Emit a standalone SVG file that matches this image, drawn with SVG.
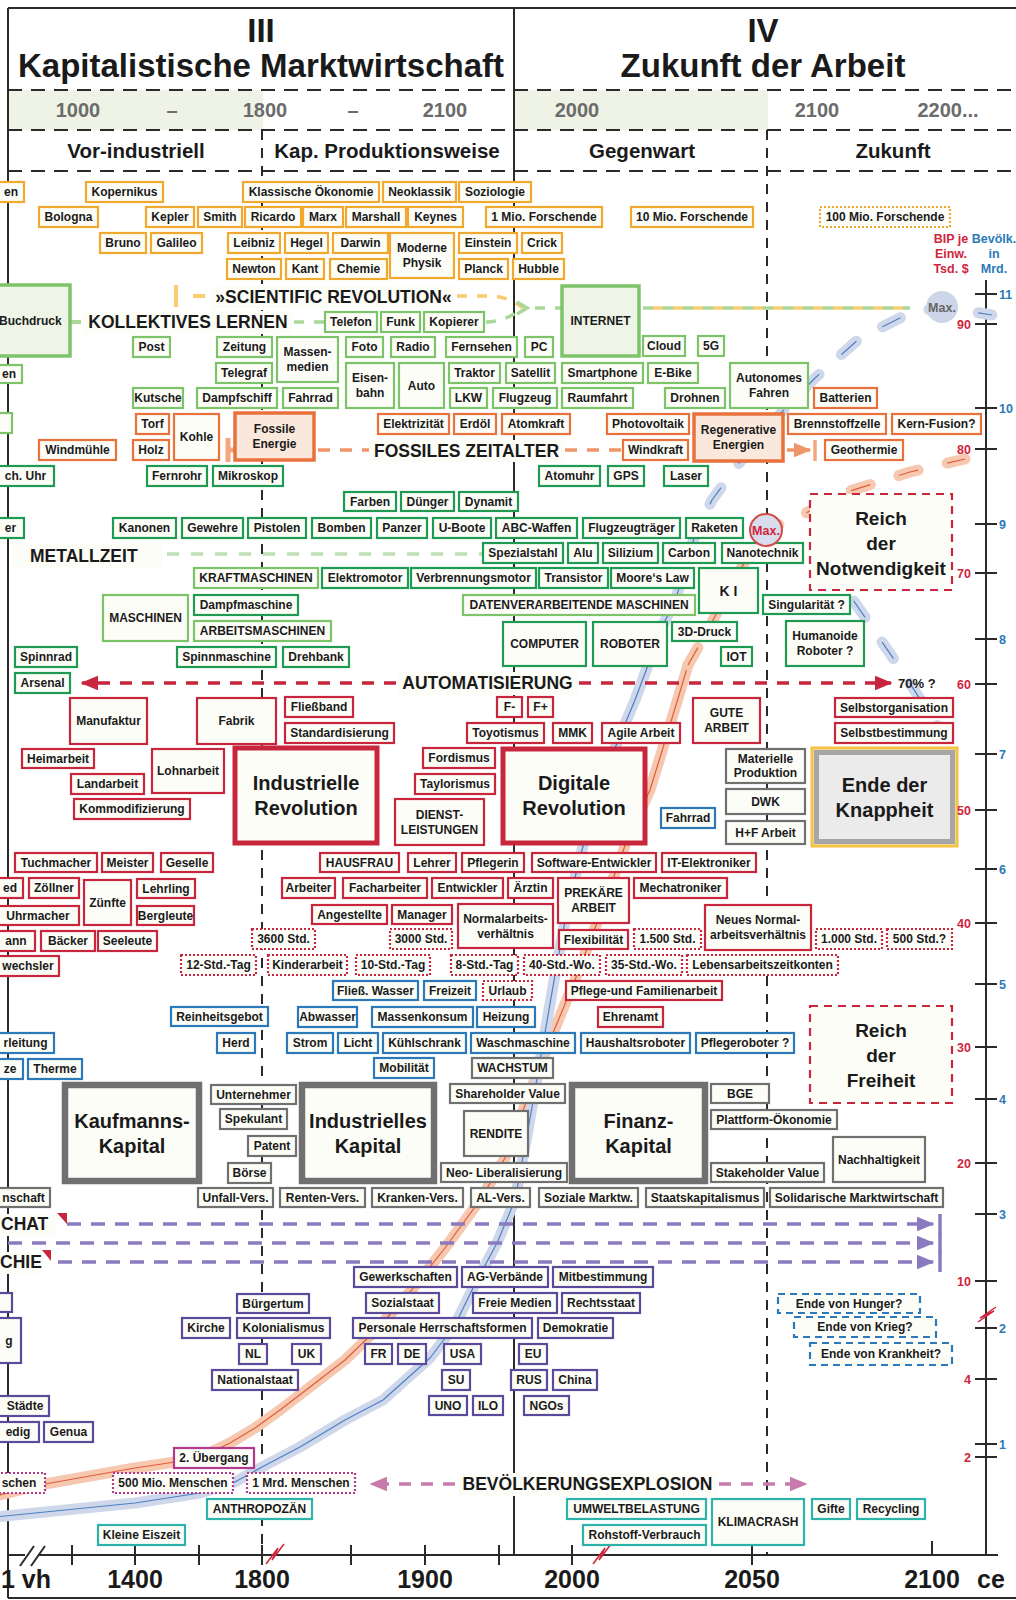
<svg xmlns="http://www.w3.org/2000/svg" width="1016" height="1600" viewBox="0 0 1016 1600">
<style>
text{font-family:"Liberation Sans",Arial,Helvetica,sans-serif;font-weight:bold;fill:#1a1a1a}
.n rect{fill:#fdfdf8;stroke-width:2.2}
.n text{font-size:12px;text-anchor:middle}
.o rect{stroke:#f0a92e}
.od rect{stroke:#f0a92e;stroke-dasharray:2 2}
.g rect{stroke:#7cc36a}
.gd rect{stroke:#1f9a52}
.e rect{stroke:#e8713c}
.r rect{stroke:#c8263d}
.rd rect{stroke:#c8263d;stroke-dasharray:2 2}
.b rect{stroke:#2b79b9}
.bd rect{stroke:#2b79b9;stroke-dasharray:7 5}
.k rect{stroke:#707070}
.p rect{stroke:#5b4a9c}
.m rect{stroke:#b13a8c}
.md rect{stroke:#b13a8c;stroke-dasharray:2 2}
.t rect{stroke:#2db3a9}
.big text{font-size:20px}
.reich text{font-size:19px}
.tg rect{stroke-width:3.5;fill:#eef5e7}
.te rect{stroke-width:3.5;fill:#fbe8dc}
.tr rect{stroke-width:5}
.tk rect{stroke-width:6.5}
.reich rect{stroke:#c8263d;stroke-dasharray:8 6}
.hdr{font-size:33px;text-anchor:middle}
.yr{font-size:20px;fill:#6b6b6b;text-anchor:middle}
.per{font-size:20.5px;text-anchor:middle}
.ax{font-size:25px;text-anchor:middle}
.lbl{font-size:17.5px}
.lbg{fill:#fdfdf8}
.rn{font-size:12.5px;fill:#d0253c;text-anchor:end}
.bn{font-size:12.5px;fill:#2b79b9}
.rh{font-size:12.5px;fill:#d0253c;text-anchor:middle}
.bh{font-size:12.5px;fill:#2b79b9;text-anchor:middle}
.grid{stroke:#2a2a2a;stroke-width:2;fill:none}
.dh{stroke-dasharray:14 9}
.dv{stroke-dasharray:10 8}
.band{fill:none;stroke-width:11;stroke-linecap:round;stroke-linejoin:round}
.thin{fill:none;stroke-width:1.2;stroke-linejoin:round}
.dsh{stroke-dasharray:20 30}
.cn{fill:none;stroke-width:3.5}
</style>
<defs>
<marker id="ah-red" viewBox="0 0 12 10" refX="11" refY="5" markerWidth="5" markerHeight="4.2" orient="auto" markerUnits="strokeWidth"><path d="M0,0 L12,5 L0,10 z" fill="#c8263d"/></marker>
<marker id="ah-pur" viewBox="0 0 12 10" refX="11" refY="5" markerWidth="5" markerHeight="4.2" orient="auto" markerUnits="strokeWidth"><path d="M0,0 L12,5 L0,10 z" fill="#8a7abf"/></marker>
<marker id="ah-mag" viewBox="0 0 12 10" refX="11" refY="5" markerWidth="5" markerHeight="4.2" orient="auto" markerUnits="strokeWidth"><path d="M0,0 L12,5 L0,10 z" fill="#c67bab"/></marker>
<marker id="ah-ora" viewBox="0 0 12 10" refX="11" refY="5" markerWidth="5" markerHeight="4.2" orient="auto" markerUnits="strokeWidth"><path d="M0,0 L12,5 L0,10 z" fill="#f0956a"/></marker>
</defs>
<rect width="1016" height="1600" fill="#ffffff"/>

<!-- header backgrounds -->
<rect x="8" y="90" width="255" height="40" fill="#eef3e5"/>
<rect x="514" y="90" width="254" height="40" fill="#eef3e5"/>

<!-- frame and grid -->
<g id="frame">
<line class="grid" x1="8" y1="8" x2="1016" y2="8" stroke-width="3"/>
<line class="grid" x1="8" y1="8" x2="8" y2="1598" stroke-width="2.5"/>
<line class="grid" x1="8" y1="1598" x2="1016" y2="1598" stroke-width="3"/>
<line class="grid dh" x1="8" y1="90" x2="1016" y2="90"/>
<line class="grid dh" x1="8" y1="130" x2="1016" y2="130"/>
<line class="grid dh" x1="8" y1="171" x2="1016" y2="171"/>
<line class="grid" x1="514" y1="8" x2="514" y2="1555"/>
<line class="grid dv" x1="262" y1="130" x2="262" y2="1555"/>
<line class="grid dv" x1="767" y1="130" x2="767" y2="1555"/>
<line class="grid" x1="8" y1="1555" x2="998" y2="1555" stroke-width="2.5"/>
<line class="grid" x1="986" y1="280" x2="986" y2="1555" stroke-width="2.5"/>
<g stroke="#2a2a2a" stroke-width="2">
<line x1="72" y1="1545" x2="72" y2="1565"/><line x1="135" y1="1545" x2="135" y2="1565"/><line x1="199" y1="1545" x2="199" y2="1565"/><line x1="262" y1="1545" x2="262" y2="1565"/><line x1="351" y1="1545" x2="351" y2="1565"/><line x1="425" y1="1545" x2="425" y2="1565"/><line x1="499" y1="1545" x2="499" y2="1565"/><line x1="572" y1="1545" x2="572" y2="1565"/><line x1="752" y1="1545" x2="752" y2="1565"/><line x1="932" y1="1541" x2="932" y2="1556"/>
<line x1="975" y1="294" x2="997" y2="294"/><line x1="975" y1="324" x2="997" y2="324"/><line x1="975" y1="408" x2="997" y2="408"/><line x1="975" y1="449" x2="997" y2="449"/><line x1="975" y1="524" x2="997" y2="524"/><line x1="975" y1="573" x2="997" y2="573"/><line x1="975" y1="639" x2="997" y2="639"/><line x1="975" y1="684" x2="997" y2="684"/><line x1="975" y1="754" x2="997" y2="754"/><line x1="975" y1="810" x2="997" y2="810"/><line x1="975" y1="869" x2="997" y2="869"/><line x1="975" y1="923" x2="997" y2="923"/><line x1="975" y1="984" x2="997" y2="984"/><line x1="975" y1="1047" x2="997" y2="1047"/><line x1="975" y1="1099" x2="997" y2="1099"/><line x1="975" y1="1163" x2="997" y2="1163"/><line x1="975" y1="1214" x2="997" y2="1214"/><line x1="975" y1="1281" x2="997" y2="1281"/><line x1="975" y1="1328" x2="997" y2="1328"/><line x1="975" y1="1379" x2="997" y2="1379"/><line x1="975" y1="1444" x2="997" y2="1444"/><line x1="975" y1="1457" x2="997" y2="1457"/>
</g>
<rect x="25" y="1551" width="14" height="8" fill="#ffffff"/>
<line x1="20" y1="1566" x2="34" y2="1546" stroke="#2a2a2a" stroke-width="2"/>
<line x1="31" y1="1566" x2="45" y2="1546" stroke="#2a2a2a" stroke-width="2"/>
<polyline points="266,1564 278,1548 272,1560 284,1544" fill="none" stroke="#d0253c" stroke-width="1.5"/>
<polyline points="593,1564 605,1548 599,1560 611,1544" fill="none" stroke="#d0253c" stroke-width="1.5"/>
<polyline points="978,1322 994,1311 980,1318 996,1307" fill="none" stroke="#d0253c" stroke-width="1.5"/>
</g>

<!-- growth curves -->
<g id="curves">
<path class="band" stroke="#f6c8b0" d="M-5 1496 L45 1484 L135 1468 L175 1462 L205 1455 L230 1443 L255 1428 L280 1410 L310 1387 L345 1360 L378 1328 L410 1292 L445 1248 L480 1200 L505 1158 L530 1092 L553 1033 L575 980 L600 915 L627 840 L650 790 L670 725 L688 665"/>
<path class="thin" stroke="#e25c38" d="M-5 1496 L45 1484 L135 1468 L175 1462 L205 1455 L230 1443 L255 1428 L280 1410 L310 1387 L345 1360 L378 1328 L410 1292 L445 1248 L480 1200 L505 1158 L530 1092 L553 1033 L575 980 L600 915 L627 840 L650 790 L670 725 L688 665"/>
<path class="band dsh" stroke="#f6c8b0" d="M688 665 L705 635 L728 592 L748 556 L766 530 L800 516 L850 491 L910 472 L965 459"/>
<path class="thin dsh" stroke="#e25c38" d="M688 665 L705 635 L728 592 L748 556 L766 530 L800 516 L850 491 L910 472 L965 459"/>
<path class="band" stroke="#cfd8ea" d="M-5 1517 L135 1503 L200 1493 L235 1482 L262 1467 L300 1447 L345 1420 L383 1400 L430 1358 L455 1325 L473 1288 L497 1243 L515 1200 L528 1130 L542 1050 L555 975 L568 905 L582 850 L595 805 L615 748 L635 700 L650 660 L663 625 L676 598"/>
<path class="thin" stroke="#4c7fc4" d="M-5 1517 L135 1503 L200 1493 L235 1482 L262 1467 L300 1447 L345 1420 L383 1400 L430 1358 L455 1325 L473 1288 L497 1243 L515 1200 L528 1130 L542 1050 L555 975 L568 905 L582 850 L595 805 L615 748 L635 700 L650 660 L663 625 L676 598"/>
<path class="band dsh" stroke="#cfd8ea" d="M676 598 L695 535 L712 500 L740 462 L780 414 L815 378 L860 338 L910 313 L942 307 L992 315"/>
<path class="thin dsh" stroke="#4c7fc4" d="M676 598 L695 535 L712 500 L740 462 L780 414 L815 378 L860 338 L910 313 L942 307 L992 315"/>
<path class="band dsh" stroke="#cfd8ea" d="M825 560 L860 610 L900 668 L940 730"/>
<path class="thin dsh" stroke="#4c7fc4" d="M825 560 L860 610 L900 668 L940 730"/>
</g>

<!-- connectors -->
<g id="connectors">
<line x1="176" y1="285" x2="176" y2="307" stroke="#f7cd72" stroke-width="4"/>
<line x1="193" y1="296" x2="205" y2="296" stroke="#f7cd72" stroke-width="4"/>
<path class="cn" stroke="#f7cd72" stroke-dasharray="10 10" d="M457 296 L490 296 Q508 296 523 308"/>
<line x1="71" y1="322" x2="81" y2="322" stroke="#a9d898" stroke-width="4"/>
<path class="cn" stroke="#a9d898" stroke-dasharray="10 10" d="M294 322 H325"/>
<path class="cn" stroke="#a9d898" stroke-dasharray="10 10" d="M486 322 Q505 322 523 308"/>
<polyline points="517,302 527,308 517,314" fill="none" stroke="#a9d898" stroke-width="3.5"/>
<path class="cn" stroke="#a9d898" stroke-dasharray="10 10" d="M535 308 H562"/>
<path class="cn" stroke="#a9d898" stroke-dasharray="10 10" d="M643 308 H910"/>
<path class="cn" stroke="#f7cd72" stroke-dasharray="10 10" stroke-dashoffset="10" d="M643 308 H910"/>
<line x1="228" y1="438" x2="228" y2="462" stroke="#f4a77c" stroke-width="5"/>
<line x1="228" y1="450" x2="236" y2="450" stroke="#f4a77c" stroke-width="5"/>
<path class="cn" stroke="#f0956a" stroke-dasharray="12 10" d="M318 450 H370"/>
<path class="cn" stroke="#f0956a" stroke-dasharray="12 10" d="M565 450 H623"/>
<path class="cn" stroke="#f0956a" d="M787 450 H810" marker-end="url(#ah-ora)"/>
<line x1="815" y1="440" x2="815" y2="461" stroke="#f4a77c" stroke-width="3.5"/>
<path class="cn" stroke="#bde0b4" stroke-dasharray="12 12" d="M167 554 H483"/>
<path class="cn" stroke="#c8263d" stroke-width="3" stroke-dasharray="12 10" d="M396 683 H82" marker-end="url(#ah-red)"/>
<path class="cn" stroke="#c8263d" stroke-width="3" stroke-dasharray="12 10" d="M579 683 H891" marker-end="url(#ah-red)"/>
<path class="cn" stroke="#8a7abf" stroke-dasharray="14 10" d="M67 1224 H933" marker-end="url(#ah-pur)"/>
<path class="cn" stroke="#8a7abf" stroke-dasharray="14 10" d="M8 1243 H933" marker-end="url(#ah-pur)"/>
<path class="cn" stroke="#8a7abf" stroke-dasharray="14 10" d="M58 1262 H933" marker-end="url(#ah-pur)"/>
<g stroke="#8a7abf" stroke-width="3.5"><line x1="940" y1="1214" x2="940" y2="1234"/><line x1="940" y1="1233" x2="940" y2="1253"/><line x1="940" y1="1252" x2="940" y2="1272"/></g>
<polygon points="57,1213 67,1213 67,1224" fill="#c8263d"/>
<polygon points="42,1250 51,1250 51,1261" fill="#c8263d"/>
<path class="cn" stroke="#c67bab" stroke-width="3" stroke-dasharray="12 10" d="M455 1484 H371" marker-end="url(#ah-mag)"/>
<path class="cn" stroke="#c67bab" stroke-width="3" stroke-dasharray="12 10" d="M719 1484 H806" marker-end="url(#ah-mag)"/>
</g>

<!-- headers -->
<g id="headers">
<text class="hdr" x="261" y="42">III</text>
<text class="hdr" x="261" y="77">Kapitalistische Marktwirtschaft</text>
<text class="hdr" x="763" y="42">IV</text>
<text class="hdr" x="763" y="77">Zukunft der Arbeit</text>
<text class="yr" x="78" y="117">1000</text>
<text class="yr" x="172" y="117">–</text>
<text class="yr" x="265" y="117">1800</text>
<text class="yr" x="353" y="117">–</text>
<text class="yr" x="445" y="117">2100</text>
<text class="yr" x="577" y="117">2000</text>
<text class="yr" x="817" y="117">2100</text>
<text class="yr" x="948" y="117">2200...</text>
<text class="per" x="136" y="158">Vor-industriell</text>
<text class="per" x="387" y="158">Kap. Produktionsweise</text>
<text class="per" x="642" y="158">Gegenwart</text>
<text class="per" x="893" y="158">Zukunft</text>
</g>

<!-- labels -->
<g id="labels">
<rect class="lbg" x="212" y="286" width="243" height="22"/>
<text class="lbl" x="333.5" y="303" font-size="17" text-anchor="middle">»SCIENTIFIC REVOLUTION«</text>
<rect class="lbg" x="84" y="311" width="208" height="23"/>
<text class="lbl" x="188" y="328" text-anchor="middle">KOLLEKTIVES LERNEN</text>
<rect class="lbg" x="369" y="440" width="195" height="22"/>
<text class="lbl" x="466.5" y="457" text-anchor="middle">FOSSILES ZEITALTER</text>
<rect class="lbg" x="12" y="544" width="150" height="24"/>
<text class="lbl" x="30" y="562">METALLZEIT</text>
<rect class="lbg" x="398" y="672" width="180" height="23"/>
<text class="lbl" x="487.5" y="689" text-anchor="middle">AUTOMATISIERUNG</text>
<text x="898" y="688" font-size="13">70% ?</text>
<rect class="lbg" x="0" y="1214" width="56" height="22"/>
<text class="lbl" x="1" y="1230">CHAT</text>
<rect class="lbg" x="0" y="1252" width="42" height="22"/>
<text class="lbl" x="0" y="1268">CHIE</text>
<rect class="lbg" x="458" y="1473" width="259" height="23"/>
<text class="lbl" x="587.5" y="1490" text-anchor="middle">BEVÖLKERUNGSEXPLOSION</text>
</g>

<!-- nodes: science -->
<g id="n-en1" class="n o"><rect x="-3" y="182" width="27" height="20"/><text x="11" y="196.3">en</text></g>
<g id="n-kopernikus" class="n o"><rect x="86" y="182" width="77" height="20"/><text x="124.5" y="196.3">Kopernikus</text></g>
<g id="n-klassische" class="n o"><rect x="243" y="182" width="136" height="20"/><text x="311" y="196.3">Klassische Ökonomie</text></g>
<g id="n-neoklassik" class="n o"><rect x="383" y="182" width="73" height="20"/><text x="419.5" y="196.3">Neoklassik</text></g>
<g id="n-soziologie" class="n o"><rect x="459" y="182" width="72" height="20"/><text x="495" y="196.3">Soziologie</text></g>
<g id="n-bologna" class="n o"><rect x="39" y="207" width="59" height="20"/><text x="68.5" y="221.3">Bologna</text></g>
<g id="n-kepler" class="n o"><rect x="146" y="207" width="48" height="20"/><text x="170" y="221.3">Kepler</text></g>
<g id="n-smith" class="n o"><rect x="198" y="207" width="44" height="20"/><text x="220" y="221.3">Smith</text></g>
<g id="n-ricardo" class="n o"><rect x="245" y="207" width="56" height="20"/><text x="273" y="221.3">Ricardo</text></g>
<g id="n-marx" class="n o"><rect x="303" y="207" width="40" height="20"/><text x="323" y="221.3">Marx</text></g>
<g id="n-marshall" class="n o"><rect x="346" y="207" width="60" height="20"/><text x="376" y="221.3">Marshall</text></g>
<g id="n-keynes" class="n o"><rect x="408" y="207" width="55" height="20"/><text x="435.5" y="221.3">Keynes</text></g>
<g id="n-mio1" class="n o"><rect x="486" y="207" width="116" height="20"/><text x="544" y="221.3">1 Mio. Forschende</text></g>
<g id="n-mio10" class="n o"><rect x="631" y="207" width="122" height="20"/><text x="692" y="221.3">10 Mio. Forschende</text></g>
<g id="n-mio100" class="n od"><rect x="820" y="207" width="130" height="20"/><text x="885" y="221.3">100 Mio. Forschende</text></g>
<g id="n-bruno" class="n o"><rect x="100" y="233" width="46" height="20"/><text x="123" y="247.3">Bruno</text></g>
<g id="n-galileo" class="n o"><rect x="151" y="233" width="51" height="20"/><text x="176.5" y="247.3">Galileo</text></g>
<g id="n-leibniz" class="n o"><rect x="228" y="233" width="52" height="20"/><text x="254" y="247.3">Leibniz</text></g>
<g id="n-hegel" class="n o"><rect x="285" y="233" width="43" height="20"/><text x="306.5" y="247.3">Hegel</text></g>
<g id="n-darwin" class="n o"><rect x="333" y="233" width="55" height="20"/><text x="360.5" y="247.3">Darwin</text></g>
<g id="n-physik" class="n o"><rect x="390" y="233" width="64" height="45"/><text x="422" y="252.3">Moderne<tspan x="422" dy="15">Physik</tspan></text></g>
<g id="n-einstein" class="n o"><rect x="459" y="233" width="58" height="20"/><text x="488" y="247.3">Einstein</text></g>
<g id="n-crick" class="n o"><rect x="522" y="233" width="40" height="20"/><text x="542" y="247.3">Crick</text></g>
<g id="n-newton" class="n o"><rect x="227" y="259" width="54" height="20"/><text x="254" y="273.3">Newton</text></g>
<g id="n-kant" class="n o"><rect x="286" y="259" width="38" height="20"/><text x="305" y="273.3">Kant</text></g>
<g id="n-chemie" class="n o"><rect x="330" y="259" width="57" height="20"/><text x="358.5" y="273.3">Chemie</text></g>
<g id="n-planck" class="n o"><rect x="459" y="259" width="49" height="20"/><text x="483.5" y="273.3">Planck</text></g>
<g id="n-hubble" class="n o"><rect x="513" y="259" width="51" height="20"/><text x="538.5" y="273.3">Hubble</text></g>

<!-- nodes: media / transport -->
<g id="n-buchdruck" class="n g tg"><rect x="-3" y="285" width="73" height="71"/><text x="-1" y="324.8" style="text-anchor:start">Buchdruck</text></g>
<g id="n-telefon" class="n g"><rect x="325" y="312" width="52" height="20"/><text x="351" y="326.3">Telefon</text></g>
<g id="n-funk" class="n g"><rect x="381" y="312" width="39" height="20"/><text x="400.5" y="326.3">Funk</text></g>
<g id="n-kopierer" class="n g"><rect x="424" y="312" width="60" height="20"/><text x="454" y="326.3">Kopierer</text></g>
<g id="n-internet" class="n g tg"><rect x="562" y="286" width="77" height="70"/><text x="600.5" y="325.3">INTERNET</text></g>
<g id="n-post" class="n g"><rect x="133" y="337" width="37" height="20"/><text x="151.5" y="351.3">Post</text></g>
<g id="n-zeitung" class="n g"><rect x="217" y="337" width="55" height="20"/><text x="244.5" y="351.3">Zeitung</text></g>
<g id="n-massenmedien" class="n g"><rect x="277" y="337" width="61" height="45"/><text x="307.5" y="356.3">Massen-<tspan x="307.5" dy="15">medien</tspan></text></g>
<g id="n-foto" class="n g"><rect x="346" y="337" width="37" height="20"/><text x="364.5" y="351.3">Foto</text></g>
<g id="n-radio" class="n g"><rect x="391" y="337" width="44" height="20"/><text x="413" y="351.3">Radio</text></g>
<g id="n-fernsehen" class="n g"><rect x="446" y="337" width="71" height="20"/><text x="481.5" y="351.3">Fernsehen</text></g>
<g id="n-pc" class="n g"><rect x="525" y="337" width="28" height="20"/><text x="539" y="351.3">PC</text></g>
<g id="n-cloud" class="n g"><rect x="643" y="336" width="42" height="20"/><text x="664" y="350.3">Cloud</text></g>
<g id="n-5g" class="n g"><rect x="698" y="336" width="26" height="20"/><text x="711" y="350.3">5G</text></g>
<g id="n-en2" class="n g"><rect x="-3" y="365" width="25" height="18"/><text x="9" y="378.3">en</text></g>
<g id="n-telegraf" class="n g"><rect x="216" y="363" width="56" height="20"/><text x="244" y="377.3">Telegraf</text></g>
<g id="n-eisenbahn" class="n g"><rect x="346" y="363" width="48" height="45"/><text x="370" y="382.3">Eisen-<tspan x="370" dy="15">bahn</tspan></text></g>
<g id="n-auto" class="n g"><rect x="399" y="363" width="45" height="45"/><text x="421.5" y="389.8">Auto</text></g>
<g id="n-traktor" class="n g"><rect x="449" y="363" width="51" height="20"/><text x="474.5" y="377.3">Traktor</text></g>
<g id="n-satellit" class="n g"><rect x="506" y="363" width="49" height="20"/><text x="530.5" y="377.3">Satellit</text></g>
<g id="n-smartphone" class="n g"><rect x="562" y="363" width="81" height="20"/><text x="602.5" y="377.3">Smartphone</text></g>
<g id="n-ebike" class="n g"><rect x="648" y="363" width="50" height="20"/><text x="673" y="377.3">E-Bike</text></g>
<g id="n-autonomes" class="n g"><rect x="730" y="363" width="78" height="45"/><text x="769" y="382.3">Autonomes<tspan x="769" dy="15">Fahren</tspan></text></g>
<g id="n-kutsche" class="n g"><rect x="133" y="388" width="50" height="20"/><text x="158" y="402.3">Kutsche</text></g>
<g id="n-dampfschiff" class="n g"><rect x="197" y="388" width="80" height="20"/><text x="237" y="402.3">Dampfschiff</text></g>
<g id="n-fahrrad1" class="n g"><rect x="283" y="388" width="55" height="20"/><text x="310.5" y="402.3">Fahrrad</text></g>
<g id="n-lkw" class="n g"><rect x="450" y="388" width="37" height="20"/><text x="468.5" y="402.3">LKW</text></g>
<g id="n-flugzeug" class="n g"><rect x="493" y="388" width="64" height="20"/><text x="525" y="402.3">Flugzeug</text></g>
<g id="n-raumfahrt" class="n g"><rect x="562" y="388" width="71" height="20"/><text x="597.5" y="402.3">Raumfahrt</text></g>
<g id="n-drohnen" class="n g"><rect x="665" y="388" width="60" height="20"/><text x="695" y="402.3">Drohnen</text></g>
<g id="n-gfrag" class="n g"><rect x="-3" y="413" width="15" height="20"/></g>

<!-- nodes: energy -->
<g id="n-batterien" class="n e"><rect x="814" y="388" width="63" height="20"/><text x="845.5" y="402.3">Batterien</text></g>
<g id="n-torf" class="n e"><rect x="136" y="414" width="33" height="20"/><text x="152.5" y="428.3">Torf</text></g>
<g id="n-kohle" class="n e"><rect x="174" y="414" width="45" height="46"/><text x="196.5" y="441.3">Kohle</text></g>
<g id="n-fossile" class="n e te"><rect x="235" y="413" width="79" height="47"/><text x="274.5" y="433.3">Fossile<tspan x="274.5" dy="15">Energie</tspan></text></g>
<g id="n-windmuehle" class="n e"><rect x="39" y="440" width="77" height="20"/><text x="77.5" y="454.3">Windmühle</text></g>
<g id="n-holz" class="n e"><rect x="133" y="440" width="36" height="20"/><text x="151" y="454.3">Holz</text></g>
<g id="n-elektrizitaet" class="n e"><rect x="378" y="414" width="71" height="20"/><text x="413.5" y="428.3">Elektrizität</text></g>
<g id="n-erdoel" class="n e"><rect x="454" y="414" width="42" height="20"/><text x="475" y="428.3">Erdöl</text></g>
<g id="n-atomkraft" class="n e"><rect x="502" y="414" width="68" height="20"/><text x="536" y="428.3">Atomkraft</text></g>
<g id="n-photovoltaik" class="n e"><rect x="607" y="414" width="82" height="20"/><text x="648" y="428.3">Photovoltaik</text></g>
<g id="n-windkraft" class="n e"><rect x="623" y="440" width="65" height="20"/><text x="655.5" y="454.3">Windkraft</text></g>
<g id="n-regenerative" class="n e te"><rect x="694" y="414" width="89" height="47"/><text x="738.5" y="434.3">Regenerative<tspan x="738.5" dy="15">Energien</tspan></text></g>
<g id="n-brennstoffzelle" class="n e"><rect x="788" y="414" width="98" height="20"/><text x="837" y="428.3">Brennstoffzelle</text></g>
<g id="n-kernfusion" class="n e"><rect x="892" y="414" width="89" height="20"/><text x="936.5" y="428.3">Kern-Fusion?</text></g>
<g id="n-geothermie" class="n e"><rect x="825" y="440" width="78" height="20"/><text x="864" y="454.3">Geothermie</text></g>

<!-- nodes: technology -->
<g id="n-uhr" class="n gd"><rect x="-3" y="466" width="57" height="20"/><text x="25.5" y="480.3">ch. Uhr</text></g>
<g id="n-fernrohr" class="n gd"><rect x="147" y="466" width="60" height="20"/><text x="177" y="480.3">Fernrohr</text></g>
<g id="n-mikroskop" class="n gd"><rect x="213" y="466" width="70" height="20"/><text x="248" y="480.3">Mikroskop</text></g>
<g id="n-atomuhr" class="n gd"><rect x="539" y="466" width="61" height="20"/><text x="569.5" y="480.3">Atomuhr</text></g>
<g id="n-gps" class="n gd"><rect x="608" y="466" width="36" height="20"/><text x="626" y="480.3">GPS</text></g>
<g id="n-laser" class="n gd"><rect x="664" y="466" width="44" height="20"/><text x="686" y="480.3">Laser</text></g>
<g id="n-farben" class="n gd"><rect x="344" y="492" width="52" height="19"/><text x="370" y="505.8">Farben</text></g>
<g id="n-duenger" class="n gd"><rect x="401" y="492" width="53" height="19"/><text x="427.5" y="505.8">Dünger</text></g>
<g id="n-dynamit" class="n gd"><rect x="459" y="492" width="59" height="19"/><text x="488.5" y="505.8">Dynamit</text></g>
<g id="n-er" class="n gd"><rect x="-3" y="518" width="27" height="20"/><text x="10.5" y="532.3">er</text></g>
<g id="n-kanonen" class="n gd"><rect x="113" y="518" width="63" height="20"/><text x="144.5" y="532.3">Kanonen</text></g>
<g id="n-gewehre" class="n gd"><rect x="182" y="518" width="61" height="20"/><text x="212.5" y="532.3">Gewehre</text></g>
<g id="n-pistolen" class="n gd"><rect x="248" y="518" width="58" height="20"/><text x="277" y="532.3">Pistolen</text></g>
<g id="n-bomben" class="n gd"><rect x="312" y="518" width="59" height="20"/><text x="341.5" y="532.3">Bomben</text></g>
<g id="n-panzer" class="n gd"><rect x="377" y="518" width="50" height="20"/><text x="402" y="532.3">Panzer</text></g>
<g id="n-uboote" class="n gd"><rect x="433" y="518" width="58" height="20"/><text x="462" y="532.3">U-Boote</text></g>
<g id="n-abc" class="n gd"><rect x="496" y="518" width="81" height="20"/><text x="536.5" y="532.3">ABC-Waffen</text></g>
<g id="n-flugzeugtraeger" class="n gd"><rect x="583" y="518" width="97" height="20"/><text x="631.5" y="532.3">Flugzeugträger</text></g>
<g id="n-raketen" class="n gd"><rect x="686" y="518" width="57" height="20"/><text x="714.5" y="532.3">Raketen</text></g>
<g id="n-spezialstahl" class="n gd"><rect x="483" y="543" width="80" height="20"/><text x="523" y="557.3">Spezialstahl</text></g>
<g id="n-alu" class="n gd"><rect x="568" y="543" width="30" height="20"/><text x="583" y="557.3">Alu</text></g>
<g id="n-silizium" class="n gd"><rect x="603" y="543" width="55" height="20"/><text x="630.5" y="557.3">Silizium</text></g>
<g id="n-carbon" class="n gd"><rect x="663" y="543" width="52" height="20"/><text x="689" y="557.3">Carbon</text></g>
<g id="n-nanotechnik" class="n gd"><rect x="722" y="543" width="81" height="20"/><text x="762.5" y="557.3">Nanotechnik</text></g>
<g id="n-kraftmaschinen" class="n g"><rect x="194" y="568" width="124" height="20"/><text x="256" y="582.3">KRAFTMASCHINEN</text></g>
<g id="n-elektromotor" class="n gd"><rect x="322" y="568" width="86" height="20"/><text x="365" y="582.3">Elektromotor</text></g>
<g id="n-verbrennungsmotor" class="n gd"><rect x="411" y="568" width="125" height="20"/><text x="473.5" y="582.3">Verbrennungsmotor</text></g>
<g id="n-transistor" class="n gd"><rect x="539" y="568" width="69" height="20"/><text x="573.5" y="582.3">Transistor</text></g>
<g id="n-moore" class="n gd"><rect x="611" y="568" width="83" height="20"/><text x="652.5" y="582.3">Moore‘s Law</text></g>
<g id="n-ki" class="n gd"><rect x="699" y="568" width="59" height="45"/><text x="728.5" y="595.5" style="font-size:14px">K I</text></g>
<g id="n-maschinen" class="n g"><rect x="103" y="595" width="85" height="46"/><text x="145.5" y="622.3">MASCHINEN</text></g>
<g id="n-dampfmaschine" class="n gd"><rect x="194" y="595" width="104" height="20"/><text x="246" y="609.3">Dampfmaschine</text></g>
<g id="n-datenverarbeitende" class="n g"><rect x="463" y="595" width="232" height="20"/><text x="579" y="609.3">DATENVERARBEITENDE MASCHINEN</text></g>
<g id="n-singularitaet" class="n gd"><rect x="763" y="595" width="87" height="19"/><text x="806.5" y="608.8">Singularität ?</text></g>
<g id="n-arbeitsmaschinen" class="n g"><rect x="194" y="621" width="137" height="20"/><text x="262.5" y="635.3">ARBEITSMASCHINEN</text></g>
<g id="n-computer" class="n gd"><rect x="503" y="622" width="83" height="44"/><text x="544.5" y="648.3">COMPUTER</text></g>
<g id="n-roboter" class="n gd"><rect x="593" y="622" width="74" height="44"/><text x="630" y="648.3">ROBOTER</text></g>
<g id="n-druck3d" class="n gd"><rect x="672" y="622" width="65" height="19"/><text x="704.5" y="635.8">3D-Druck</text></g>
<g id="n-humanoide" class="n gd"><rect x="786" y="621" width="78" height="45"/><text x="825" y="640.3">Humanoide<tspan x="825" dy="15">Roboter ?</tspan></text></g>
<g id="n-spinnrad" class="n gd"><rect x="15" y="647" width="62" height="20"/><text x="46" y="661.3">Spinnrad</text></g>
<g id="n-spinnmaschine" class="n gd"><rect x="177" y="647" width="99" height="20"/><text x="226.5" y="661.3">Spinnmaschine</text></g>
<g id="n-drehbank" class="n gd"><rect x="283" y="647" width="66" height="20"/><text x="316" y="661.3">Drehbank</text></g>
<g id="n-iot" class="n gd"><rect x="721" y="647" width="31" height="19"/><text x="736.5" y="660.8">IOT</text></g>
<g id="n-arsenal" class="n gd"><rect x="15" y="673" width="55" height="20"/><text x="42.5" y="687.3">Arsenal</text></g>

<!-- nodes: work -->
<g id="n-manufaktur" class="n r"><rect x="70" y="698" width="77" height="46"/><text x="108.5" y="725.3">Manufaktur</text></g>
<g id="n-fabrik" class="n r"><rect x="197" y="698" width="79" height="46"/><text x="236.5" y="725.3">Fabrik</text></g>
<g id="n-fliessband" class="n r"><rect x="285" y="697" width="68" height="20"/><text x="319" y="711.3">Fließband</text></g>
<g id="n-standardisierung" class="n r"><rect x="285" y="723" width="109" height="20"/><text x="339.5" y="737.3">Standardisierung</text></g>
<g id="n-fminus" class="n r"><rect x="497" y="697" width="25" height="20"/><text x="509.5" y="711.3">F-</text></g>
<g id="n-fplus" class="n r"><rect x="528" y="697" width="25" height="20"/><text x="540.5" y="711.3">F+</text></g>
<g id="n-toyotismus" class="n r"><rect x="467" y="723" width="77" height="20"/><text x="505.5" y="737.3">Toyotismus</text></g>
<g id="n-mmk" class="n r"><rect x="553" y="723" width="39" height="20"/><text x="572.5" y="737.3">MMK</text></g>
<g id="n-agile" class="n r"><rect x="602" y="723" width="78" height="20"/><text x="641" y="737.3">Agile Arbeit</text></g>
<g id="n-gute" class="n r"><rect x="693" y="698" width="67" height="45"/><text x="726.5" y="717.3">GUTE<tspan x="726.5" dy="15">ARBEIT</tspan></text></g>
<g id="n-selbstorg" class="n r"><rect x="835" y="698" width="118" height="19"/><text x="894" y="711.8">Selbstorganisation</text></g>
<g id="n-selbstbest" class="n r"><rect x="835" y="723" width="118" height="20"/><text x="894" y="737.3">Selbstbestimmung</text></g>
<g id="n-heimarbeit" class="n r"><rect x="22" y="749" width="72" height="19"/><text x="58" y="762.8">Heimarbeit</text></g>
<g id="n-lohnarbeit" class="n r"><rect x="152" y="749" width="72" height="44"/><text x="188" y="775.3">Lohnarbeit</text></g>
<g id="n-landarbeit" class="n r"><rect x="71" y="774" width="73" height="20"/><text x="107.5" y="788.3">Landarbeit</text></g>
<g id="n-indrev" class="n r tr big"><rect x="235" y="748" width="142" height="95"/><text x="306" y="790">Industrielle<tspan x="306" dy="25">Revolution</tspan></text></g>
<g id="n-fordismus" class="n r"><rect x="423" y="748" width="72" height="20"/><text x="459" y="762.3">Fordismus</text></g>
<g id="n-taylorismus" class="n r"><rect x="415" y="774" width="80" height="20"/><text x="455" y="788.3">Taylorismus</text></g>
<g id="n-digrev" class="n r tr big"><rect x="503" y="749" width="142" height="94"/><text x="574" y="790">Digitale<tspan x="574" dy="25">Revolution</tspan></text></g>
<g id="n-kommod" class="n r"><rect x="74" y="799" width="116" height="20"/><text x="132" y="813.3">Kommodifizierung</text></g>
<g id="n-dienst" class="n r"><rect x="395" y="799" width="89" height="46"/><text x="439.5" y="818.8">DIENST-<tspan x="439.5" dy="15">LEISTUNGEN</tspan></text></g>
<g id="n-tuchmacher" class="n r"><rect x="15" y="853" width="82" height="19"/><text x="56" y="866.8">Tuchmacher</text></g>
<g id="n-meister" class="n r"><rect x="102" y="853" width="51" height="19"/><text x="127.5" y="866.8">Meister</text></g>
<g id="n-geselle" class="n r"><rect x="161" y="853" width="52" height="19"/><text x="187" y="866.8">Geselle</text></g>
<g id="n-hausfrau" class="n r"><rect x="320" y="853" width="79" height="19"/><text x="359.5" y="866.8">HAUSFRAU</text></g>
<g id="n-lehrer" class="n r"><rect x="408" y="853" width="48" height="19"/><text x="432" y="866.8">Lehrer</text></g>
<g id="n-pflegerin" class="n r"><rect x="462" y="853" width="62" height="19"/><text x="493" y="866.8">Pflegerin</text></g>
<g id="n-software" class="n r"><rect x="532" y="853" width="124" height="19"/><text x="594" y="866.8">Software-Entwickler</text></g>
<g id="n-itelektroniker" class="n r"><rect x="662" y="853" width="94" height="19"/><text x="709" y="866.8">IT-Elektroniker</text></g>
<g id="n-ed" class="n r"><rect x="-3" y="878" width="26" height="20"/><text x="10" y="892.3">ed</text></g>
<g id="n-zoellner" class="n r"><rect x="29" y="878" width="50" height="20"/><text x="54" y="892.3">Zöllner</text></g>
<g id="n-zuenfte" class="n r"><rect x="84" y="880" width="47" height="45"/><text x="107.5" y="906.8">Zünfte</text></g>
<g id="n-lehrling" class="n r"><rect x="137" y="879" width="58" height="19"/><text x="166" y="892.8">Lehrling</text></g>
<g id="n-arbeiter" class="n r"><rect x="282" y="878" width="53" height="20"/><text x="308.5" y="892.3">Arbeiter</text></g>
<g id="n-facharbeiter" class="n r"><rect x="343" y="878" width="84" height="20"/><text x="385" y="892.3">Facharbeiter</text></g>
<g id="n-entwickler" class="n r"><rect x="432" y="878" width="71" height="20"/><text x="467.5" y="892.3">Entwickler</text></g>
<g id="n-aerztin" class="n r"><rect x="508" y="878" width="45" height="20"/><text x="530.5" y="892.3">Ärztin</text></g>
<g id="n-prekaer" class="n r"><rect x="558" y="878" width="71" height="45"/><text x="593.5" y="897.3">PREKÄRE<tspan x="593.5" dy="15">ARBEIT</tspan></text></g>
<g id="n-mechatroniker" class="n r"><rect x="634" y="878" width="93" height="20"/><text x="680.5" y="892.3">Mechatroniker</text></g>
<g id="n-uhrmacher" class="n r"><rect x="-3" y="906" width="82" height="19"/><text x="38" y="919.8">Uhrmacher</text></g>
<g id="n-bergleute" class="n r"><rect x="137" y="906" width="57" height="19"/><text x="165.5" y="919.8">Bergleute</text></g>
<g id="n-angestellte" class="n r"><rect x="312" y="905" width="75" height="19"/><text x="349.5" y="918.8">Angestellte</text></g>
<g id="n-manager" class="n r"><rect x="392" y="905" width="60" height="19"/><text x="422" y="918.8">Manager</text></g>
<g id="n-normalab" class="n r"><rect x="458" y="904" width="95" height="44"/><text x="505.5" y="922.8">Normalarbeits-<tspan x="505.5" dy="15">verhältnis</tspan></text></g>
<g id="n-neuesnormal" class="n r"><rect x="705" y="905" width="106" height="45"/><text x="758" y="924.3">Neues Normal-<tspan x="758" dy="15">arbeitsverhältnis</tspan></text></g>
<g id="n-ann" class="n r"><rect x="-3" y="931" width="38" height="20"/><text x="16" y="945.3">ann</text></g>
<g id="n-baecker" class="n r"><rect x="41" y="931" width="54" height="20"/><text x="68" y="945.3">Bäcker</text></g>
<g id="n-seeleute" class="n r"><rect x="98" y="931" width="59" height="20"/><text x="127.5" y="945.3">Seeleute</text></g>
<g id="n-std3600" class="n rd"><rect x="252" y="929" width="63" height="20"/><text x="283.5" y="943.3">3600 Std.</text></g>
<g id="n-std3000" class="n rd"><rect x="390" y="929" width="62" height="20"/><text x="421" y="943.3">3000 Std.</text></g>
<g id="n-flexibilitaet" class="n r"><rect x="559" y="930" width="69" height="19"/><text x="593.5" y="943.8">Flexibilität</text></g>
<g id="n-std1500" class="n rd"><rect x="634" y="929" width="67" height="20"/><text x="667.5" y="943.3">1.500 Std.</text></g>
<g id="n-std1000" class="n rd"><rect x="816" y="929" width="66" height="20"/><text x="849" y="943.3">1.000 Std.</text></g>
<g id="n-std500" class="n rd"><rect x="887" y="929" width="65" height="20"/><text x="919.5" y="943.3">500 Std.?</text></g>
<g id="n-wechsler" class="n r"><rect x="-3" y="956" width="62" height="20"/><text x="28" y="970.3">wechsler</text></g>
<g id="n-tag12" class="n rd"><rect x="181" y="955" width="75" height="20"/><text x="218.5" y="969.3">12-Std.-Tag</text></g>
<g id="n-kinderarbeit" class="n rd"><rect x="268" y="955" width="79" height="20"/><text x="307.5" y="969.3">Kinderarbeit</text></g>
<g id="n-tag10" class="n rd"><rect x="356" y="955" width="74" height="20"/><text x="393" y="969.3">10-Std.-Tag</text></g>
<g id="n-tag8" class="n rd"><rect x="451" y="955" width="67" height="20"/><text x="484.5" y="969.3">8-Std.-Tag</text></g>
<g id="n-wo40" class="n rd"><rect x="524" y="955" width="76" height="20"/><text x="562" y="969.3">40-Std.-Wo.</text></g>
<g id="n-wo35" class="n rd"><rect x="606" y="955" width="76" height="20"/><text x="644" y="969.3">35-Std.-Wo.</text></g>
<g id="n-lebensarbeit" class="n rd"><rect x="687" y="955" width="151" height="20"/><text x="762.5" y="969.3">Lebensarbeitszeitkonten</text></g>
<g id="n-urlaub" class="n rd"><rect x="483" y="981" width="49" height="19"/><text x="507.5" y="994.8">Urlaub</text></g>
<g id="n-pflegefam" class="n r"><rect x="566" y="981" width="156" height="19"/><text x="644" y="994.8">Pflege-und Familienarbeit</text></g>
<g id="n-ehrenamt" class="n r"><rect x="598" y="1007" width="65" height="20"/><text x="630.5" y="1021.3">Ehrenamt</text></g>

<!-- nodes: household -->
<g id="n-fahrrad2" class="n b"><rect x="661" y="808" width="54" height="20"/><text x="688" y="822.3">Fahrrad</text></g>
<g id="n-fliesswasser" class="n b"><rect x="333" y="981" width="85" height="19"/><text x="375.5" y="994.8">Fließ. Wasser</text></g>
<g id="n-freizeit" class="n b"><rect x="424" y="981" width="52" height="19"/><text x="450" y="994.8">Freizeit</text></g>
<g id="n-reinheitsgebot" class="n b"><rect x="171" y="1007" width="97" height="19"/><text x="219.5" y="1020.8">Reinheitsgebot</text></g>
<g id="n-abwasser" class="n b"><rect x="298" y="1007" width="59" height="20"/><text x="327.5" y="1021.3">Abwasser</text></g>
<g id="n-massenkonsum" class="n b"><rect x="372" y="1007" width="101" height="20"/><text x="422.5" y="1021.3">Massenkonsum</text></g>
<g id="n-heizung" class="n b"><rect x="477" y="1007" width="58" height="20"/><text x="506" y="1021.3">Heizung</text></g>
<g id="n-rleitung" class="n b"><rect x="-3" y="1033" width="57" height="20"/><text x="25.5" y="1047.3">rleitung</text></g>
<g id="n-herd" class="n b"><rect x="217" y="1033" width="38" height="20"/><text x="236" y="1047.3">Herd</text></g>
<g id="n-strom" class="n b"><rect x="287" y="1033" width="46" height="20"/><text x="310" y="1047.3">Strom</text></g>
<g id="n-licht" class="n b"><rect x="338" y="1033" width="40" height="20"/><text x="358" y="1047.3">Licht</text></g>
<g id="n-kuehlschrank" class="n b"><rect x="383" y="1033" width="83" height="20"/><text x="424.5" y="1047.3">Kühlschrank</text></g>
<g id="n-waschmaschine" class="n b"><rect x="471" y="1033" width="104" height="20"/><text x="523" y="1047.3">Waschmaschine</text></g>
<g id="n-haushaltsroboter" class="n b"><rect x="581" y="1033" width="109" height="20"/><text x="635.5" y="1047.3">Haushaltsroboter</text></g>
<g id="n-pflegeroboter" class="n b"><rect x="696" y="1033" width="98" height="20"/><text x="745" y="1047.3">Pflegeroboter ?</text></g>
<g id="n-ze" class="n b"><rect x="-3" y="1059" width="26" height="20"/><text x="10" y="1073.3">ze</text></g>
<g id="n-therme" class="n b"><rect x="28" y="1059" width="54" height="20"/><text x="55" y="1073.3">Therme</text></g>
<g id="n-mobilitaet" class="n b"><rect x="374" y="1058" width="60" height="20"/><text x="404" y="1072.3">Mobilität</text></g>

<!-- nodes: capital -->
<g id="n-materielle" class="n k"><rect x="726" y="749" width="79" height="34"/><text x="765.5" y="762.5">Materielle<tspan x="765.5" dy="14">Produktion</tspan></text></g>
<g id="n-dwk" class="n k"><rect x="726" y="789" width="79" height="25"/><text x="765.5" y="805.8">DWK</text></g>
<g id="n-hf" class="n k"><rect x="726" y="821" width="79" height="23"/><text x="765.5" y="836.8">H+F Arbeit</text></g>
<g id="n-knappheit" class="n big"><rect x="812" y="748" width="145" height="98" style="fill:#ebebeb;stroke:#f5c242;stroke-width:3"/><rect x="816.5" y="752.5" width="136" height="89" style="fill:none;stroke:#a6a6a6;stroke-width:5"/><text x="884.5" y="792">Ende der<tspan x="884.5" dy="25">Knappheit</tspan></text></g>
<g id="n-wachstum" class="n k"><rect x="472" y="1058" width="81" height="20"/><text x="512.5" y="1072.3">WACHSTUM</text></g>
<g id="n-kaufmanns" class="n k tk big"><rect x="65" y="1085" width="134" height="96"/><text x="132" y="1128">Kaufmanns-<tspan x="132" dy="25">Kapital</tspan></text></g>
<g id="n-unternehmer" class="n k"><rect x="211" y="1085" width="85" height="19"/><text x="253.5" y="1098.8">Unternehmer</text></g>
<g id="n-spekulant" class="n k"><rect x="220" y="1109" width="67" height="20"/><text x="253.5" y="1123.3">Spekulant</text></g>
<g id="n-patent" class="n k"><rect x="248" y="1136" width="48" height="20"/><text x="272" y="1150.3">Patent</text></g>
<g id="n-boerse" class="n k"><rect x="228" y="1163" width="43" height="20"/><text x="249.5" y="1177.3">Börse</text></g>
<g id="n-indkap" class="n k tk big"><rect x="302" y="1085" width="132" height="96"/><text x="368" y="1128">Industrielles<tspan x="368" dy="25">Kapital</tspan></text></g>
<g id="n-shareholder" class="n k"><rect x="450" y="1084" width="115" height="19"/><text x="507.5" y="1097.8">Shareholder Value</text></g>
<g id="n-rendite" class="n k"><rect x="464" y="1111" width="64" height="45"/><text x="496" y="1137.8">RENDITE</text></g>
<g id="n-neolib" class="n k"><rect x="441" y="1163" width="126" height="19"/><text x="504" y="1176.8">Neo- Liberalisierung</text></g>
<g id="n-finanz" class="n k tk big"><rect x="572" y="1085" width="133" height="96"/><text x="638.5" y="1128">Finanz-<tspan x="638.5" dy="25">Kapital</tspan></text></g>
<g id="n-bge" class="n k"><rect x="711" y="1084" width="58" height="19"/><text x="740" y="1097.8">BGE</text></g>
<g id="n-plattform" class="n k"><rect x="711" y="1110" width="126" height="19"/><text x="774" y="1123.8">Plattform-Ökonomie</text></g>
<g id="n-nachhaltigkeit" class="n k"><rect x="833" y="1137" width="92" height="45"/><text x="879" y="1163.8">Nachhaltigkeit</text></g>
<g id="n-stakeholder" class="n k"><rect x="711" y="1163" width="113" height="19"/><text x="767.5" y="1176.8">Stakeholder Value</text></g>
<g id="n-nschaft" class="n k"><rect x="-3" y="1188" width="53" height="19"/><text x="23.5" y="1201.8">nschaft</text></g>
<g id="n-unfall" class="n k"><rect x="198" y="1188" width="75" height="19"/><text x="235.5" y="1201.8">Unfall-Vers.</text></g>
<g id="n-renten" class="n k"><rect x="280" y="1188" width="85" height="19"/><text x="322.5" y="1201.8">Renten-Vers.</text></g>
<g id="n-kranken" class="n k"><rect x="372" y="1188" width="91" height="19"/><text x="417.5" y="1201.8">Kranken-Vers.</text></g>
<g id="n-alvers" class="n k"><rect x="471" y="1188" width="59" height="19"/><text x="500.5" y="1201.8">AL-Vers.</text></g>
<g id="n-sozmarkt" class="n k"><rect x="539" y="1188" width="99" height="19"/><text x="588.5" y="1201.8">Soziale Marktw.</text></g>
<g id="n-staatskap" class="n k"><rect x="646" y="1188" width="118" height="19"/><text x="705" y="1201.8">Staatskapitalismus</text></g>
<g id="n-solidar" class="n k"><rect x="770" y="1188" width="173" height="19"/><text x="856.5" y="1201.8">Solidarische Marktwirtschaft</text></g>

<!-- nodes: realms -->
<g id="n-notwendigkeit" class="n reich"><rect x="810" y="494" width="142" height="96"/><text x="881" y="525">Reich<tspan x="881" dy="25">der</tspan><tspan x="881" dy="25">Notwendigkeit</tspan></text></g>
<g id="n-freiheit" class="n reich"><rect x="810" y="1006" width="142" height="97"/><text x="881" y="1037">Reich<tspan x="881" dy="25">der</tspan><tspan x="881" dy="25">Freiheit</tspan></text></g>

<!-- nodes: politics -->
<g id="n-gewerkschaften" class="n p"><rect x="354" y="1267" width="103" height="20"/><text x="405.5" y="1281.3">Gewerkschaften</text></g>
<g id="n-agverbaende" class="n p"><rect x="462" y="1267" width="86" height="20"/><text x="505" y="1281.3">AG-Verbände</text></g>
<g id="n-mitbestimmung" class="n p"><rect x="553" y="1267" width="100" height="20"/><text x="603" y="1281.3">Mitbestimmung</text></g>
<g id="n-pfrag" class="n p"><rect x="-3" y="1293" width="15" height="19"/></g>
<g id="n-buergertum" class="n p"><rect x="237" y="1294" width="72" height="19"/><text x="273" y="1307.8">Bürgertum</text></g>
<g id="n-sozialstaat" class="n p"><rect x="366" y="1293" width="73" height="20"/><text x="402.5" y="1307.3">Sozialstaat</text></g>
<g id="n-freiemedien" class="n p"><rect x="473" y="1293" width="84" height="20"/><text x="515" y="1307.3">Freie Medien</text></g>
<g id="n-rechtsstaat" class="n p"><rect x="562" y="1293" width="78" height="20"/><text x="601" y="1307.3">Rechtsstaat</text></g>
<g id="n-g" class="n p"><rect x="-3" y="1318" width="24" height="45"/><text x="9" y="1344.8">g</text></g>
<g id="n-kirche" class="n p"><rect x="182" y="1318" width="48" height="20"/><text x="206" y="1332.3">Kirche</text></g>
<g id="n-kolonialismus" class="n p"><rect x="237" y="1318" width="93" height="20"/><text x="283.5" y="1332.3">Kolonialismus</text></g>
<g id="n-personale" class="n p"><rect x="353" y="1318" width="179" height="20"/><text x="442.5" y="1332.3">Personale Herrschaftsformen</text></g>
<g id="n-demokratie" class="n p"><rect x="538" y="1318" width="75" height="20"/><text x="575.5" y="1332.3">Demokratie</text></g>
<g id="n-nl" class="n p"><rect x="239" y="1344" width="28" height="20"/><text x="253" y="1358.3">NL</text></g>
<g id="n-uk" class="n p"><rect x="292" y="1344" width="29" height="20"/><text x="306.5" y="1358.3">UK</text></g>
<g id="n-fr" class="n p"><rect x="365" y="1344" width="27" height="20"/><text x="378.5" y="1358.3">FR</text></g>
<g id="n-de" class="n p"><rect x="398" y="1344" width="28" height="20"/><text x="412" y="1358.3">DE</text></g>
<g id="n-usa" class="n p"><rect x="444" y="1344" width="37" height="20"/><text x="462.5" y="1358.3">USA</text></g>
<g id="n-eu" class="n p"><rect x="519" y="1344" width="28" height="20"/><text x="533" y="1358.3">EU</text></g>
<g id="n-nationalstaat" class="n p"><rect x="212" y="1370" width="86" height="20"/><text x="255" y="1384.3">Nationalstaat</text></g>
<g id="n-su" class="n p"><rect x="442" y="1370" width="28" height="20"/><text x="456" y="1384.3">SU</text></g>
<g id="n-rus" class="n p"><rect x="511" y="1370" width="36" height="20"/><text x="529" y="1384.3">RUS</text></g>
<g id="n-china" class="n p"><rect x="553" y="1370" width="44" height="20"/><text x="575" y="1384.3">China</text></g>
<g id="n-staedte" class="n p"><rect x="-3" y="1396" width="52" height="20"/><text x="25" y="1410.3">Städte</text></g>
<g id="n-uno" class="n p"><rect x="429" y="1396" width="38" height="19"/><text x="448" y="1409.8">UNO</text></g>
<g id="n-ilo" class="n p"><rect x="473" y="1396" width="30" height="19"/><text x="488" y="1409.8">ILO</text></g>
<g id="n-ngos" class="n p"><rect x="524" y="1396" width="45" height="19"/><text x="546.5" y="1409.8">NGOs</text></g>
<g id="n-edig" class="n p"><rect x="-3" y="1422" width="42" height="20"/><text x="18" y="1436.3">edig</text></g>
<g id="n-genua" class="n p"><rect x="44" y="1422" width="49" height="20"/><text x="68.5" y="1436.3">Genua</text></g>

<!-- nodes: hopes -->
<g id="n-hunger" class="n bd"><rect x="778" y="1294" width="142" height="19"/><text x="849" y="1307.8">Ende von Hunger?</text></g>
<g id="n-krieg" class="n bd"><rect x="794" y="1317" width="142" height="20"/><text x="865" y="1331.3">Ende von Krieg?</text></g>
<g id="n-krankheit" class="n bd"><rect x="810" y="1343" width="142" height="22"/><text x="881" y="1358.3">Ende von Krankheit?</text></g>

<!-- nodes: population / environment -->
<g id="n-uebergang" class="n m"><rect x="174" y="1448" width="80" height="20"/><text x="214" y="1462.3">2. Übergang</text></g>
<g id="n-schen" class="n md"><rect x="-3" y="1473" width="48" height="20"/><text x="19" y="1487.3">schen</text></g>
<g id="n-mio500" class="n md"><rect x="113" y="1473" width="120" height="20"/><text x="173" y="1487.3">500 Mio. Menschen</text></g>
<g id="n-mrd1" class="n md"><rect x="247" y="1473" width="108" height="20"/><text x="301" y="1487.3">1 Mrd. Menschen</text></g>
<g id="n-anthropozaen" class="n t"><rect x="207" y="1499" width="105" height="20"/><text x="259.5" y="1513.3">ANTHROPOZÄN</text></g>
<g id="n-eiszeit" class="n t"><rect x="98" y="1525" width="87" height="20"/><text x="141.5" y="1539.3">Kleine Eiszeit</text></g>
<g id="n-umwelt" class="n t"><rect x="567" y="1499" width="139" height="20"/><text x="636.5" y="1513.3">UMWELTBELASTUNG</text></g>
<g id="n-rohstoff" class="n t"><rect x="583" y="1525" width="123" height="20"/><text x="644.5" y="1539.3">Rohstoff-Verbrauch</text></g>
<g id="n-klimacrash" class="n t"><rect x="712" y="1499" width="92" height="46"/><text x="758" y="1526.3">KLIMACRASH</text></g>
<g id="n-gifte" class="n t"><rect x="812" y="1499" width="38" height="20"/><text x="831" y="1513.3">Gifte</text></g>
<g id="n-recycling" class="n t"><rect x="857" y="1499" width="68" height="20"/><text x="891" y="1513.3">Recycling</text></g>

<!-- maxima -->
<g id="n-max-pop">
<circle cx="942" cy="307" r="16" fill="#cdd6e8"/>
<text x="942" y="311.5" font-size="12.5" text-anchor="middle" style="fill:#666666">Max.</text>
</g>
<g id="n-max-bip">
<circle cx="766" cy="530" r="16" fill="#d8dcec" stroke="#d24a4a" stroke-width="2"/>
<text x="766" y="534.5" font-size="12.5" text-anchor="middle" style="fill:#d0253c">Max.</text>
</g>

<!-- axis labels -->
<g id="axis-labels">
<text class="rh" x="951" y="242.5">BIP je</text>
<text class="rh" x="951" y="257.5">Einw.</text>
<text class="rh" x="951" y="272.5">Tsd. $</text>
<text class="bh" x="994" y="242.5">Bevölk.</text>
<text class="bh" x="994" y="257.5">in</text>
<text class="bh" x="994" y="272.5">Mrd.</text>
<text class="bn" x="999" y="298.5">11</text>
<text class="bn" x="999" y="412.5">10</text>
<text class="bn" x="999" y="528.5">9</text>
<text class="bn" x="999" y="643.5">8</text>
<text class="bn" x="999" y="758.5">7</text>
<text class="bn" x="999" y="873.5">6</text>
<text class="bn" x="999" y="988.5">5</text>
<text class="bn" x="999" y="1103.5">4</text>
<text class="bn" x="999" y="1218.5">3</text>
<text class="bn" x="999" y="1332.5">2</text>
<text class="bn" x="999" y="1448.5">1</text>
<text class="rn" x="971" y="328.5">90</text>
<text class="rn" x="971" y="453.5">80</text>
<text class="rn" x="971" y="577.5">70</text>
<text class="rn" x="971" y="688.5">60</text>
<text class="rn" x="971" y="814.5">50</text>
<text class="rn" x="971" y="927.5">40</text>
<text class="rn" x="971" y="1051.5">30</text>
<text class="rn" x="971" y="1167.5">20</text>
<text class="rn" x="971" y="1285.5">10</text>
<text class="rn" x="971" y="1383.5">4</text>
<text class="rn" x="971" y="1461.5">2</text>
<text class="ax" x="1" y="1588" style="text-anchor:start">1 vh</text>
<text class="ax" x="135" y="1588">1400</text>
<text class="ax" x="262" y="1588">1800</text>
<text class="ax" x="425" y="1588">1900</text>
<text class="ax" x="572" y="1588">2000</text>
<text class="ax" x="752" y="1588">2050</text>
<text class="ax" x="932" y="1588">2100</text>
<text class="ax" x="991" y="1588">ce</text>
</g>
</svg>
